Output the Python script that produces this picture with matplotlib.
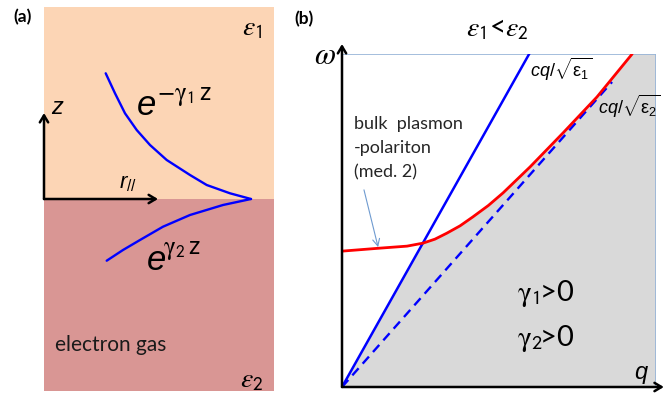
import matplotlib
matplotlib.use("Agg")
import matplotlib.pyplot as plt
from matplotlib.patches import Rectangle, Polygon
import numpy as np

plt.rcParams["font.family"] = ["Lato", "DejaVu Sans"]
plt.rcParams["mathtext.fontset"] = "custom"
plt.rcParams["mathtext.rm"] = "Liberation Sans"
plt.rcParams["mathtext.it"] = "Liberation Sans:italic"
plt.rcParams["mathtext.sf"] = "Liberation Sans"

W, H = 670, 396

# ---- panel (a): field profile, x = amplitude, z = height above interface ----
UP_X = [61.7, 71, 81, 92.7, 106, 122.7, 146, 162.7, 186, 207]
UP_Z = [125.7, 105.7, 85.7, 69, 54, 39, 24, 14, 5.7, 0]
LOW_X = [207, 179, 146, 119, 96, 79, 62.7]
LOW_Z = [0, -6, -16, -27.7, -41, -51, -61.7]

# ---- panel (b): dispersion, q and omega in box units ----
LIGHT1_Q = [0, 0.596]          # cq/sqrt(eps1)
LIGHT1_W = [0, 1.0]
LIGHT2_Q = [0, 0.86]           # cq/sqrt(eps2)
LIGHT2_W = [0, 0.916]
BPP_Q = [0, 0.121, 0.207, 0.258, 0.296, 0.334, 0.376, 0.417, 0.466, 0.513,
         0.556, 0.599, 0.704, 0.812, 0.924]
BPP_W = [0.408, 0.417, 0.423, 0.432, 0.444, 0.462, 0.484, 0.511, 0.545, 0.583,
         0.622, 0.661, 0.763, 0.871, 1.0]

PEACH = "#FCD5B5"
ROSE = "#D99694"
GREY = "#D9D9D9"
BOXBLUE = "#95B3D7"
ITAL = "Liberation Sans"


def fx(px):
    return px / W


def fy(py):
    return 1 - py / H


fig = plt.figure(figsize=(W / 100, H / 100), dpi=100)

# ---------------- (a) ----------------
axa = fig.add_axes([fx(44), fy(391), (274 - 44) / W, (391 - 7) / H])
axa.set_xlim(0, 230)
axa.set_ylim(-192, 192)
axa.axis("off")
axa.add_patch(Rectangle((0, 0), 230, 192, color=PEACH, lw=0))
axa.add_patch(Rectangle((0, -192), 230, 192, color=ROSE, lw=0))
axa.plot(UP_X, UP_Z, color="#0000FF", lw=1.7, solid_capstyle="round", solid_joinstyle="round")
axa.plot(LOW_X, LOW_Z, color="#0000FF", lw=1.7, solid_capstyle="round", solid_joinstyle="round")
arr = dict(arrowstyle="->,head_length=0.5,head_width=0.3", lw=1.8, color="black",
           shrinkA=0, shrinkB=0)
axa.annotate("", xy=(0, 86), xytext=(0, 0), arrowprops=arr, annotation_clip=False)
axa.annotate("", xy=(114, 0), xytext=(0, 0), arrowprops=arr, annotation_clip=False)
axa.text(13, 92, "z", fontsize=17, family=ITAL, style="italic", ha="center", va="center")
axa.text(84, 15, r"$r_{//}$", fontsize=16, ha="center", va="center")
axa.text(93, 84, "e", fontsize=25, family=ITAL, style="italic", ha="left", va="baseline")
axa.text(113, 99, r"$-\mathrm{\gamma}_\mathsf{1}\,$z", fontsize=18,
         math_fontfamily="stix", ha="left", va="baseline")
axa.text(103, -71, "e", fontsize=25, family=ITAL, style="italic", ha="left", va="baseline")
axa.text(119, -55, r"$\mathrm{\gamma}_\mathsf{2}\,$z", fontsize=18,
         math_fontfamily="stix", ha="left", va="baseline")
axa.text(208, 171, r"$\varepsilon_\mathsf{1}$", fontsize=20, math_fontfamily="stix",
         ha="center", va="center")
axa.text(208, -181, r"$\varepsilon_\mathsf{2}$", fontsize=20, math_fontfamily="stix",
         ha="center", va="center")
axa.text(11, -146, "electron gas", fontsize=15, ha="left", va="center", color="#1a1a1a")

# ---------------- (b) ----------------
axb = fig.add_axes([fx(342), fy(387), (656 - 342) / W, (387 - 54) / H])
axb.set_xlim(0, 1)
axb.set_ylim(0, 1)
axb.axis("off")

bq = np.array(BPP_Q)
bw = np.array(BPP_W)
keep = bq >= 0.258
grey_poly = [(0, 0)] + list(zip(bq[keep], bw[keep])) + [(1, 1), (1, 0)]
axb.add_patch(Polygon(grey_poly, closed=True, color=GREY, lw=0))
axb.add_patch(Rectangle((0, 0), 1, 1, fill=False, edgecolor=BOXBLUE, lw=1.2))

axb.plot(LIGHT2_Q, LIGHT2_W, color="#0000FF", lw=1.7, dashes=(4, 2.6))
axb.plot(LIGHT1_Q, LIGHT1_W, color="#0000FF", lw=1.8)
axb.plot(bq, bw, color="#FF0000", lw=2.0, solid_capstyle="round", solid_joinstyle="round")

axb.annotate("", xy=(0, 1.03), xytext=(0, 0), arrowprops=arr, annotation_clip=False)
axb.annotate("", xy=(1.025, 0), xytext=(0, 0), arrowprops=arr, annotation_clip=False)
axb.annotate("", xy=(0.115, 0.42), xytext=(0.07, 0.592),
             arrowprops=dict(arrowstyle="->,head_length=0.5,head_width=0.25", lw=0.8,
                             color="#6F9BD0", shrinkA=0, shrinkB=0))

axb.text(0.6, 0.955, r"$cq/\sqrt{\mathrm{\epsilon}_\mathsf{1}}$", fontsize=13,
         ha="left", va="center")
axb.text(0.815, 0.841, r"$cq/\sqrt{\mathrm{\epsilon}_\mathsf{2}}$", fontsize=13,
         ha="left", va="center")
axb.text(0.038, 0.79, "bulk  plasmon", fontsize=13, ha="left", va="center", color="#262626")
axb.text(0.038, 0.718, "-polariton", fontsize=13, ha="left", va="center", color="#262626")
axb.text(0.038, 0.646, "(med. 2)", fontsize=13, ha="left", va="center", color="#262626")
axb.text(0.557, 0.282, r"$\mathrm{\gamma}_\mathsf{1}\!$>0", fontsize=21, math_fontfamily="stix",
         ha="left", va="center")
axb.text(0.557, 0.147, r"$\mathrm{\gamma}_\mathsf{2}\!$>0", fontsize=21, math_fontfamily="stix",
         ha="left", va="center")

fig.text(fx(23), fy(17), "(a)", fontsize=12.5, weight="bold", ha="center", va="center")
fig.text(fx(304), fy(19), "(b)", fontsize=12.5, weight="bold", ha="center", va="center")
fig.text(fx(497), fy(29), r"$\varepsilon_\mathsf{1}$<$\varepsilon_\mathsf{2}$", fontsize=20,
         math_fontfamily="stix", ha="center", va="center")
fig.text(fx(325), fy(55), r"$\omega$", fontsize=22, math_fontfamily="stix",
         ha="center", va="center")
fig.text(fx(641), fy(372), "q", fontsize=17, family=ITAL, style="italic",
         ha="center", va="center")

fig.savefig("out.png", dpi=100)
